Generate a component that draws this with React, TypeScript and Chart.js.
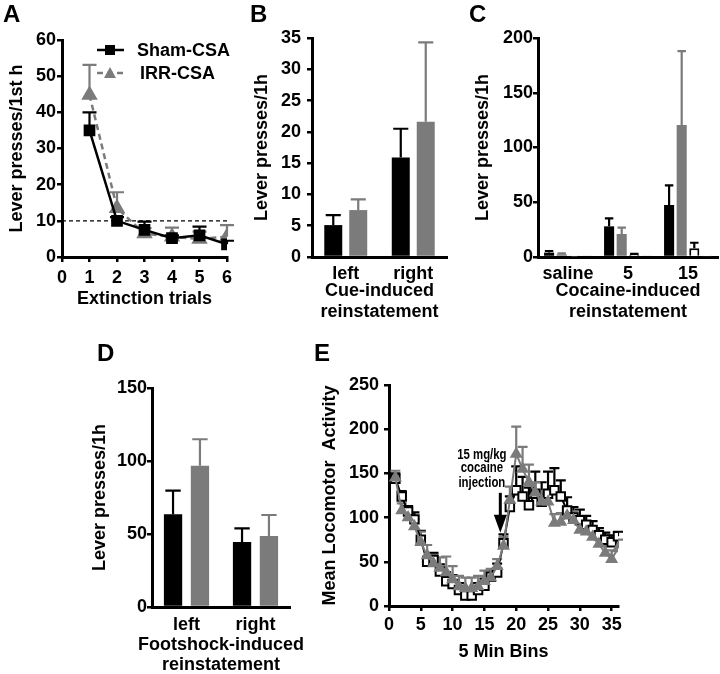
import React, { useEffect, useRef } from 'react';
import { Chart, registerables } from 'chart.js';

Chart.register(...registerables);

const FONT = "'Liberation Sans', Arial, Helvetica, sans-serif";
const BLACK = '#000000';
const GRAY = '#7b7b7b';

// ---------- Panel A: extinction ----------
const trialsA = [1, 2, 3, 4, 5, 6];
const shamA = [35, 10, 7.5, 5.2, 6, 3.5];
const shamAErr = [5, 1, 2.3, 0.8, 2.4, 1];
const irrA = [44.8, 13.5, 6.5, 5.6, 5, 5.6];
const irrAErr = [8.3, 4.4, 1.5, 2.5, 2, 3.2];
const thresholdA = 10;
const legendA = ['Sham-CSA', 'IRR-CSA'];

// ---------- Panel B: cue-induced ----------
const leverCats = ['left', 'right'];
const shamB = [5.1, 15.9];
const shamBErr = [1.6, 4.6];
const irrB = [7.5, 21.6];
const irrBErr = [1.7, 12.7];

// ---------- Panel C: cocaine-induced ----------
const doseCats = ['saline', '5', '15'];
const shamActiveC = [4, 28, 47.5];
const shamActiveCErr = [1.5, 7.3, 18];
const irrActiveC = [2.5, 21, 120.5];
const irrActiveCErr = [0.8, 5.8, 67.5];
const shamInactiveC = [0.3, 2, 8];
const shamInactiveCErr = [0, 0.8, 5];
const irrInactiveC = [1, 1, 0.5];
const irrInactiveCErr = [0, 0, 0];

// ---------- Panel D: footshock-induced ----------
const shamD = [63.5, 44.5];
const shamDErr = [16.2, 9.4];
const irrD = [96.8, 48.6];
const irrDErr = [18.1, 14.4];
const titleD = ['Footshock-induced', 'reinstatement'];

// ---------- Panel E: locomotor ----------
const binsE = [1, 2, 3, 4, 5, 6, 7, 8, 9, 10, 11, 12, 13, 14, 15, 16, 17, 18, 19, 20, 21, 22, 23, 24, 25, 26, 27, 28, 29, 30, 31, 32, 33, 34, 35, 36];
const shamE = [144, 124, 107, 98, 75, 50, 52, 39, 28, 25, 18, 12, 12, 18, 23, 33, 38, 71, 112, 131, 124, 114, 127, 118, 127, 131, 124, 108, 100, 97, 92, 86, 80, 75, 72, 79];
const shamEErr = [6, 6, 6, 8, 10, 6, 8, 8, 10, 10, 8, 8, 8, 8, 8, 8, 10, 10, 12, 27, 22, 20, 25, 22, 25, 25, 18, 15, 12, 12, 10, 10, 8, 8, 8, 5];
const irrE = [145, 108, 100, 90, 72, 57, 48, 43, 38, 30, 22, 20, 20, 22, 28, 32, 45, 68, 120, 172, 155, 140, 128, 118, 118, 94, 95, 102, 97, 86, 84, 78, 70, 60, 53, 65];
const irrEErr = [8, 8, 8, 8, 12, 12, 10, 12, 18, 15, 12, 12, 12, 12, 12, 10, 8, 10, 15, 31, 25, 20, 12, 12, 10, 10, 10, 10, 10, 10, 10, 10, 10, 10, 10, 10];
const injectionBin = 17.5;
const injectionArrowTop = 128;
const injectionArrowTip = 83;
const injectionText = ['15 mg/kg', 'cocaine', 'injection'];
const injectionTextX = 14.6;
const injectionTextY = [171, 156, 139];

const TICK_FONT = { family: FONT, size: 18, weight: 'bold' as const };
const TITLE_FONT = { family: FONT, size: 18, weight: 'bold' as const, lineHeight: 1.17 };

const errorBarPlugin = {
  id: 'errorBars',
  beforeDatasetsDraw(chart: any) {
    const ctx = chart.ctx;
    chart.data.datasets.forEach((ds: any, i: number) => {
      const errs = ds.errors;
      if (!errs) return;
      const meta = chart.getDatasetMeta(i);
      const yScale = chart.scales[meta.yAxisID];
      meta.data.forEach((el: any, j: number) => {
        const raw = ds.data[j];
        const v = typeof raw === 'object' ? raw.y : raw;
        const e = errs[j];
        if (v == null || !e) return;
        const x = el.x;
        const y0 = yScale.getPixelForValue(v);
        const y1 = yScale.getPixelForValue(v + e);
        const half = ds.errorCap != null ? ds.errorCap : el.width ? el.width * 0.42 : 6;
        ctx.save();
        ctx.strokeStyle = ds.errorColor || BLACK;
        ctx.lineWidth = 2.2;
        ctx.beginPath();
        ctx.moveTo(x, y0);
        ctx.lineTo(x, y1);
        ctx.moveTo(x - half, y1);
        ctx.lineTo(x + half, y1);
        ctx.stroke();
        ctx.restore();
      });
    });
  },
};

function yAxis(min: number, max: number, step: number, title: string, width: number, titlePad: number, tickPad: number) {
  return {
    type: 'linear',
    min,
    max,
    ticks: { stepSize: step, font: TICK_FONT, color: BLACK, padding: tickPad, includeBounds: false },
    grid: { display: true, drawOnChartArea: false, drawTicks: true, tickLength: 5, color: BLACK, lineWidth: 2.5 },
    border: { display: true, color: BLACK, width: 3 },
    title: { display: true, text: title, font: TITLE_FONT, color: BLACK, padding: { top: titlePad, bottom: 0 } },
    afterFit: (s: any) => {
      s.width = width;
    },
  };
}

function catAxis(title: string | string[], showTitle: boolean, height: number, tickPad: number, titlePadBottom: number) {
  return {
    type: 'category',
    offset: true,
    ticks: { font: TICK_FONT, color: BLACK, padding: tickPad },
    grid: { display: true, drawOnChartArea: false, drawTicks: false, color: BLACK },
    border: { display: true, color: BLACK, width: 3 },
    title: { display: showTitle, text: title, font: TITLE_FONT, color: BLACK, padding: { top: 0, bottom: titlePadBottom } },
    afterFit: (s: any) => {
      s.height = height;
    },
  };
}

function linAxisX(min: number, max: number, step: number, title: string, height: number, tickPad: number, titlePadBottom: number) {
  return {
    type: 'linear',
    min,
    max,
    ticks: { stepSize: step, font: TICK_FONT, color: BLACK, padding: tickPad, includeBounds: false },
    grid: { display: true, drawOnChartArea: false, drawTicks: true, tickLength: 5, color: BLACK, lineWidth: 2.5 },
    border: { display: true, color: BLACK, width: 3 },
    title: { display: true, text: title, font: TITLE_FONT, color: BLACK, padding: { top: 0, bottom: titlePadBottom } },
    afterFit: (s: any) => {
      s.height = height;
    },
  };
}

const basePlugins = {
  legend: { display: false },
  tooltip: { enabled: false },
};

// Panel A config
function configA() {
  const thresholdPlugin = {
    id: 'thresholdA',
    beforeDatasetsDraw(chart: any) {
      const { ctx, chartArea } = chart;
      const y = chart.scales.y.getPixelForValue(thresholdA);
      ctx.save();
      ctx.strokeStyle = BLACK;
      ctx.lineWidth = 1.4;
      ctx.setLineDash([4, 3]);
      ctx.beginPath();
      ctx.moveTo(chartArea.left, y);
      ctx.lineTo(chartArea.right + 3, y);
      ctx.stroke();
      ctx.restore();
    },
  };
  const legendPlugin = {
    id: 'legendA',
    afterDraw(chart: any) {
      const ctx = chart.ctx;
      const rows = [
        { y: 50, color: BLACK, dash: [] as number[], marker: 'rect', textX: 137 },
        { y: 73, color: GRAY, dash: [6, 4], marker: 'tri', textX: 140 },
      ];
      rows.forEach((r, i) => {
        ctx.save();
        ctx.strokeStyle = r.color;
        ctx.lineWidth = 2.5;
        ctx.setLineDash(r.dash);
        ctx.beginPath();
        ctx.moveTo(97, r.y);
        ctx.lineTo(124, r.y);
        ctx.stroke();
        ctx.setLineDash([]);
        ctx.fillStyle = r.color;
        if (r.marker === 'rect') {
          ctx.fillRect(105, r.y - 5, 10, 10);
        } else {
          ctx.beginPath();
          ctx.moveTo(110, r.y - 6);
          ctx.lineTo(116, r.y + 5);
          ctx.lineTo(104, r.y + 5);
          ctx.closePath();
          ctx.fill();
        }
        ctx.fillStyle = BLACK;
        ctx.font = `bold 18px ${FONT}`;
        ctx.textBaseline = 'middle';
        ctx.textAlign = 'left';
        ctx.fillText(legendA[i], r.textX, r.y + 1);
        ctx.restore();
      });
    },
  };
  return {
    type: 'line',
    data: {
      datasets: [
        {
          label: legendA[0],
          data: trialsA.map((x, i) => ({ x, y: shamA[i] })),
          errors: shamAErr,
          errorColor: BLACK,
          errorCap: 7,
          borderColor: BLACK,
          borderWidth: 2.5,
          pointStyle: 'rect',
          pointRadius: 6.5,
          pointBackgroundColor: BLACK,
          pointBorderColor: BLACK,
        },
        {
          label: legendA[1],
          data: trialsA.map((x, i) => ({ x, y: irrA[i] })),
          errors: irrAErr,
          errorColor: GRAY,
          errorCap: 7,
          borderColor: GRAY,
          borderWidth: 2.5,
          borderDash: [6, 4],
          pointStyle: 'triangle',
          pointRadius: 7,
          pointBackgroundColor: GRAY,
          pointBorderColor: GRAY,
        },
      ],
    },
    options: {
      responsive: false,
      animation: false,
      layout: { padding: { left: 0, right: 13, top: 40, bottom: 4 } },
      scales: {
        x: linAxisX(0, 6, 1, 'Extinction trials', 59, 5, 6),
        y: yAxis(0, 60, 10, 'Lever presses/1st h', 62, 7, 1),
      },
      plugins: basePlugins,
    },
    plugins: [thresholdPlugin, errorBarPlugin, legendPlugin],
  };
}

function configB() {
  return {
    type: 'bar',
    data: {
      labels: leverCats,
      datasets: [
        { label: 'Sham-CSA', data: shamB, errors: shamBErr, errorColor: BLACK, backgroundColor: BLACK, categoryPercentage: 0.74, barPercentage: 0.72 },
        { label: 'IRR-CSA', data: irrB, errors: irrBErr, errorColor: GRAY, backgroundColor: GRAY, categoryPercentage: 0.74, barPercentage: 0.72 },
      ],
    },
    options: {
      responsive: false,
      animation: false,
      layout: { padding: { left: 0, right: 23, top: 38, bottom: 4 } },
      scales: {
        x: catAxis(['Cue-induced', 'reinstatement'], true, 70, 6, 4),
        y: yAxis(0, 35, 5, 'Lever presses/1h', 72, 12, 6),
      },
      plugins: basePlugins,
    },
    plugins: [errorBarPlugin],
  };
}

function configC() {
  const common = { categoryPercentage: 0.84, barPercentage: 0.8 };
  return {
    type: 'bar',
    data: {
      labels: doseCats,
      datasets: [
        { label: 'Sham-CSA active', data: shamActiveC, errors: shamActiveCErr, errorColor: BLACK, backgroundColor: BLACK, ...common },
        { label: 'IRR-CSA active', data: irrActiveC, errors: irrActiveCErr, errorColor: GRAY, backgroundColor: GRAY, ...common },
        { label: 'Sham-CSA inactive', data: shamInactiveC, errors: shamInactiveCErr, errorColor: BLACK, backgroundColor: '#ffffff', borderColor: BLACK, borderWidth: 2, ...common },
        { label: 'IRR-CSA inactive', data: irrInactiveC, errors: irrInactiveCErr, errorColor: GRAY, backgroundColor: '#ffffff', borderColor: '#444444', borderWidth: 2, ...common },
      ],
    },
    options: {
      responsive: false,
      animation: false,
      layout: { padding: { left: 0, right: 2, top: 38, bottom: 4 } },
      scales: {
        x: catAxis(['Cocaine-induced', 'reinstatement'], true, 70, 6, 4),
        y: yAxis(0, 200, 50, 'Lever presses/1h', 68, 3, 0),
      },
      plugins: basePlugins,
    },
    plugins: [errorBarPlugin],
  };
}

function configD() {
  const titlePlugin = {
    id: 'titleD',
    afterDraw(chart: any) {
      const { ctx, chartArea } = chart;
      const cx = (chartArea.left + chartArea.right) / 2;
      ctx.save();
      ctx.fillStyle = BLACK;
      ctx.font = `bold 18px ${FONT}`;
      ctx.textAlign = 'center';
      ctx.textBaseline = 'middle';
      titleD.forEach((t, i) => {
        ctx.fillText(t, cx, chartArea.bottom + 38 + i * 20.5);
      });
      ctx.restore();
    },
  };
  return {
    type: 'bar',
    data: {
      labels: leverCats,
      datasets: [
        { label: 'Sham-CSA', data: shamD, errors: shamDErr, errorColor: BLACK, backgroundColor: BLACK, categoryPercentage: 0.78, barPercentage: 0.68 },
        { label: 'IRR-CSA', data: irrD, errors: irrDErr, errorColor: GRAY, backgroundColor: GRAY, categoryPercentage: 0.78, barPercentage: 0.68 },
      ],
    },
    options: {
      responsive: false,
      animation: false,
      layout: { padding: { left: 0, right: 30, top: 58, bottom: 0 } },
      scales: {
        x: catAxis(titleD, false, 67, 7, 0),
        y: yAxis(0, 150, 50, 'Lever presses/1h', 72, 10, 0),
      },
      plugins: basePlugins,
    },
    plugins: [errorBarPlugin, titlePlugin],
  };
}

function configE() {
  const annotationPlugin = {
    id: 'injection',
    afterDatasetsDraw(chart: any) {
      const { ctx } = chart;
      const xs = chart.scales.x;
      const ys = chart.scales.y;
      const ax = xs.getPixelForValue(injectionBin);
      const aTop = ys.getPixelForValue(injectionArrowTop);
      const aTip = ys.getPixelForValue(injectionArrowTip);
      ctx.save();
      ctx.strokeStyle = BLACK;
      ctx.fillStyle = BLACK;
      ctx.lineWidth = 3;
      ctx.beginPath();
      ctx.moveTo(ax, aTop);
      ctx.lineTo(ax, aTip - 14);
      ctx.stroke();
      ctx.beginPath();
      ctx.moveTo(ax - 6.5, aTip - 18);
      ctx.lineTo(ax + 6.5, aTip - 18);
      ctx.lineTo(ax, aTip);
      ctx.closePath();
      ctx.fill();
      ctx.font = `bold 15px ${FONT}`;
      ctx.textAlign = 'center';
      ctx.textBaseline = 'middle';
      const tx = xs.getPixelForValue(injectionTextX);
      injectionText.forEach((t, i) => {
        const ty = ys.getPixelForValue(injectionTextY[i]);
        ctx.save();
        ctx.translate(tx, ty);
        ctx.scale(0.76, 1);
        ctx.fillText(t, 0, 0);
        ctx.restore();
      });
      ctx.restore();
    },
  };
  return {
    type: 'line',
    data: {
      datasets: [
        {
          label: 'Sham-CSA',
          data: binsE.map((x, i) => ({ x, y: shamE[i] })),
          errors: shamEErr,
          errorColor: BLACK,
          errorCap: 5,
          borderColor: BLACK,
          borderWidth: 2,
          pointStyle: 'rect',
          pointRadius: 6,
          pointBackgroundColor: '#ffffff',
          pointBorderColor: BLACK,
          pointBorderWidth: 2,
          order: 2,
        },
        {
          label: 'IRR-CSA',
          data: binsE.map((x, i) => ({ x, y: irrE[i] })),
          errors: irrEErr,
          errorColor: GRAY,
          errorCap: 5,
          borderColor: GRAY,
          borderWidth: 2,
          pointStyle: 'triangle',
          pointRadius: 5.5,
          pointBackgroundColor: GRAY,
          pointBorderColor: GRAY,
          order: 1,
        },
      ],
    },
    options: {
      responsive: false,
      animation: false,
      layout: { padding: { left: 0, right: 102, top: 55, bottom: 4 } },
      scales: {
        x: linAxisX(0, 36, 5, '5 Min Bins', 64, 3, 7),
        y: yAxis(0, 250, 50, 'Mean Locomotor  Activity', 79, 10, 5),
      },
      plugins: basePlugins,
    },
    plugins: [errorBarPlugin, annotationPlugin],
  };
}

function ChartPanel(props: { left: number; top: number; width: number; height: number; config: () => any }) {
  const ref = useRef<HTMLCanvasElement>(null);
  useEffect(() => {
    const chart = new Chart(ref.current as HTMLCanvasElement, props.config());
    return () => chart.destroy();
  }, []);
  return (
    <canvas
      ref={ref}
      width={props.width}
      height={props.height}
      style={{ position: 'absolute', left: props.left, top: props.top, width: props.width, height: props.height }}
    />
  );
}

const panelLetterStyle = (left: number, top: number): React.CSSProperties => ({
  position: 'absolute',
  left,
  top,
  fontFamily: FONT,
  fontWeight: 'bold',
  fontSize: 24,
  lineHeight: '24px',
  color: BLACK,
});

export default function App() {
  return (
    <div style={{ position: 'absolute', left: 0, top: 0, width: 720, height: 674, background: '#ffffff', overflow: 'hidden' }}>
      <ChartPanel left={0} top={0} width={240} height={320} config={configA} />
      <ChartPanel left={240} top={0} width={230} height={331} config={configB} />
      <ChartPanel left={470} top={0} width={250} height={331} config={configC} />
      <ChartPanel left={80} top={330} width={240} height={344} config={configD} />
      <ChartPanel left={310} top={330} width={410} height={344} config={configE} />
      <div style={panelLetterStyle(3, 2)}>A</div>
      <div style={panelLetterStyle(250, 2)}>B</div>
      <div style={panelLetterStyle(469, 2)}>C</div>
      <div style={panelLetterStyle(97, 341)}>D</div>
      <div style={panelLetterStyle(314, 341)}>E</div>
    </div>
  );
}
